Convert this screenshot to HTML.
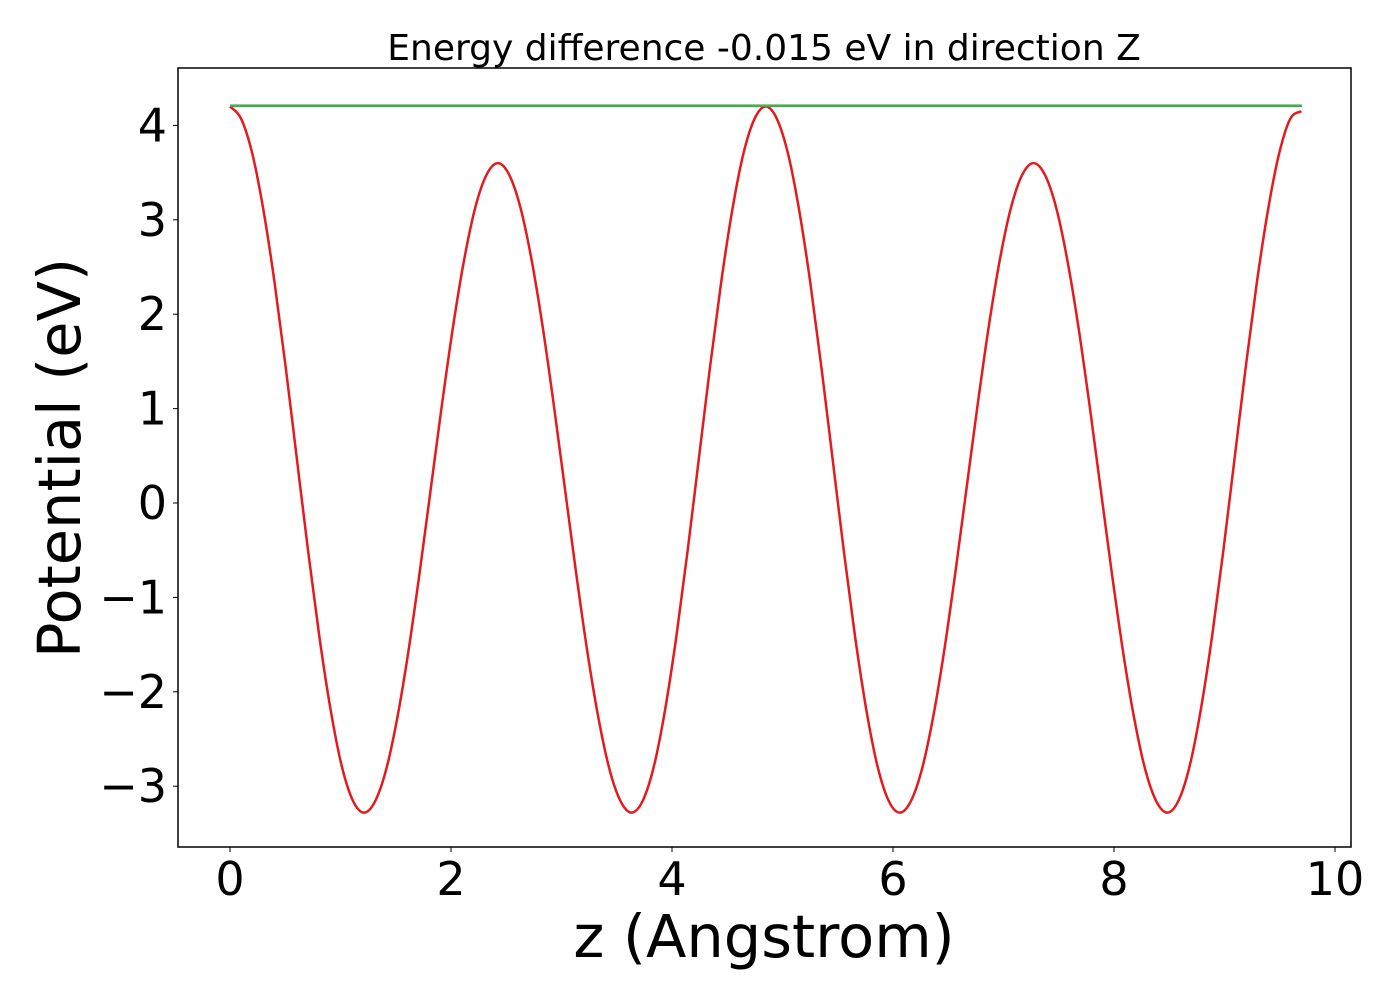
<!DOCTYPE html>
<html><head><meta charset="utf-8"><style>
html,body{margin:0;padding:0;background:#fff;}
svg text{font-family:"DejaVu Sans","Liberation Sans",sans-serif;}
</style></head><body>
<svg id="chart" width="1400" height="1000" xmlns="http://www.w3.org/2000/svg">
<text x="764" y="60" font-size="36" text-anchor="middle">Energy difference -0.015 eV in direction Z</text>
<g id="marks"></g>
<rect x="178" y="68" width="1173" height="779" fill="none" stroke="#000" stroke-width="1.5"/>
<g id="xticks"></g>
<g id="yticks"></g>
<text x="764" y="957" font-size="59" text-anchor="middle">z (Angstrom)</text>
<text transform="translate(80,458) rotate(-90)" font-size="59" text-anchor="middle">Potential (eV)</text>
</svg>
<script>
const xTicks = [0, 2, 4, 6, 8, 10];
const xTickLabels = ["0", "2", "4", "6", "8", "10"];
const yTicks = [-3, -2, -1, 0, 1, 2, 3, 4];
const yTickLabels = ["\u22123", "\u22122", "\u22121", "0", "1", "2", "3", "4"];
const zStep = 0.101;
const potential = [
4.20,4.07,3.70,3.10,2.33,1.43,0.46,-0.51,-1.41,-2.18,-2.78,-3.15,
-3.28,-3.16,-2.82,-2.27,-1.56,-0.73,0.16,1.05,1.88,2.59,3.14,3.48,
3.60,3.48,3.14,2.59,1.88,1.05,0.16,-0.73,-1.56,-2.27,-2.82,-3.16,
-3.28,-3.15,-2.78,-2.18,-1.41,-0.51,0.46,1.43,2.33,3.10,3.70,4.07,
4.20,4.07,3.70,3.10,2.33,1.43,0.46,-0.51,-1.41,-2.18,-2.78,-3.15,
-3.28,-3.16,-2.82,-2.27,-1.56,-0.73,0.16,1.05,1.88,2.59,3.14,3.48,
3.60,3.48,3.14,2.59,1.88,1.05,0.16,-0.73,-1.56,-2.27,-2.82,-3.16,
-3.28,-3.15,-2.78,-2.18,-1.41,-0.51,0.46,1.43,2.33,3.10,3.70,4.07,4.15
];
const referenceLevel = [4.21, 4.21];
const referenceZ = [0, 9.7];

const NS = "http://www.w3.org/2000/svg";
function xs(v){ return 230 + v * 110.5; }
function ys(v){ return 503 - v * 94.4; }

const marks = document.getElementById('marks');
const pts = potential.map((v, i) => [xs(i * zStep), ys(v)]);
let d = "M" + pts[0][0].toFixed(2) + "," + pts[0][1].toFixed(2);
for (let i = 0; i < pts.length - 1; i++) {
  const p0 = pts[Math.max(i - 1, 0)], p1 = pts[i], p2 = pts[i + 1], p3 = pts[Math.min(i + 2, pts.length - 1)];
  const c1x = p1[0] + (p2[0] - p0[0]) / 6, c1y = p1[1] + (p2[1] - p0[1]) / 6;
  const c2x = p2[0] - (p3[0] - p1[0]) / 6, c2y = p2[1] - (p3[1] - p1[1]) / 6;
  d += "C" + c1x.toFixed(2) + "," + c1y.toFixed(2) + " " + c2x.toFixed(2) + "," + c2y.toFixed(2) + " " + p2[0].toFixed(2) + "," + p2[1].toFixed(2);
}
const curve = document.createElementNS(NS, 'path');


curve.setAttribute('d', d);
curve.setAttribute('fill', 'none');
curve.setAttribute('stroke', '#e41a1c');
curve.setAttribute('stroke-width', '2.5');
curve.setAttribute('stroke-linejoin', 'round');
marks.appendChild(curve);

const blue = document.createElementNS(NS, 'line');


blue.setAttribute('x1', xs(referenceZ[0])); blue.setAttribute('x2', xs(referenceZ[1]));
blue.setAttribute('y1', ys(referenceLevel[0]) + 1); blue.setAttribute('y2', ys(referenceLevel[1]) + 1);
blue.setAttribute('stroke', '#3050a0'); blue.setAttribute('stroke-width', '1');
marks.appendChild(blue);

const green = document.createElementNS(NS, 'line');


green.setAttribute('x1', xs(referenceZ[0])); green.setAttribute('x2', xs(referenceZ[1]));
green.setAttribute('y1', ys(referenceLevel[0])); green.setAttribute('y2', ys(referenceLevel[1]));
green.setAttribute('stroke', '#4daf4a'); green.setAttribute('stroke-width', '2.5');
marks.appendChild(green);

const xg = document.getElementById('xticks');
xTicks.forEach((t, i) => {
  const l = document.createElementNS(NS, 'line');
  
  
  l.setAttribute('x1', xs(t)); l.setAttribute('x2', xs(t));
  l.setAttribute('y1', 847); l.setAttribute('y2', 852);
  l.setAttribute('stroke', '#000'); l.setAttribute('stroke-width', '1');
  xg.appendChild(l);
  const tx = document.createElementNS(NS, 'text');
  
  
  tx.setAttribute('x', xs(t)); tx.setAttribute('y', 895);
  tx.setAttribute('font-size', '46'); tx.setAttribute('text-anchor', 'middle');
  tx.textContent = xTickLabels[i];
  xg.appendChild(tx);
});
const yg = document.getElementById('yticks');
yTicks.forEach((t, i) => {
  const l = document.createElementNS(NS, 'line');
  
  
  l.setAttribute('x1', 173); l.setAttribute('x2', 178);
  l.setAttribute('y1', ys(t)); l.setAttribute('y2', ys(t));
  l.setAttribute('stroke', '#000'); l.setAttribute('stroke-width', '1');
  yg.appendChild(l);
  const tx = document.createElementNS(NS, 'text');
  
  
  tx.setAttribute('x', 167); tx.setAttribute('y', ys(t) + 16);
  tx.setAttribute('font-size', '46'); tx.setAttribute('text-anchor', 'end');
  tx.textContent = yTickLabels[i];
  yg.appendChild(tx);
});
</script>
</body></html>
